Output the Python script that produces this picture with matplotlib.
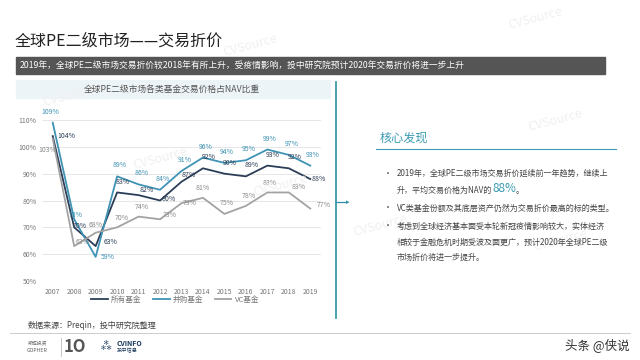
import matplotlib.pyplot as plt
from matplotlib.patches import Rectangle
from matplotlib.lines import Line2D

plt.rcParams['font.family'] = ['Noto Sans CJK SC', 'DejaVu Sans']

# ---- Data ----
years = ['2007', '2008', '2009', '2010', '2011', '2012', '2013',
         '2014', '2015', '2016', '2017', '2018', '2019']
all_funds = [104, 70, 63, 83, 82, 80, 87, 92, 90, 89, 93, 92, 88]
buyout = [109, 73, 59, 89, 86, 84, 91, 96, 94, 95, 99, 97, 93]
vc = [103, 63, 68, 70, 74, 73, 79, 81, 75, 78, 83, 83, 77]
yticks = [50, 60, 70, 80, 90, 100, 110]

# label offsets (points) for each series
off_all = [(10, -3), (4, -2), (11, 0), (4, 5), (6, 1), (6, -2), (5, 2),
           (4, 5), (4, 5), (4, 5), (4, 5), (4, 5), (6, -3)]
off_buy = [(-2, 5), (1, 0), (9, -3), (2, 5), (2, 5), (2, 5), (2, 5),
           (2, 5), (2, 5), (2, 5), (2, 5), (2, 5), (2, 5)]
off_vc = [(-4, -11), (6, 0), (0, 3), (3, 4), (2, 4), (7, 0), (6, -3),
          (0, 4), (2, 5), (2, 4), (2, 4), (7, 1), (10, 0)]

W, H = 640, 360


def fx(x):
    return x / W


def fy(y):
    return 1 - y / H


fig = plt.figure(figsize=(6.4, 3.6), dpi=100)
fig.patch.set_facecolor('white')

# faint watermarks
for wx, wy in [(250, 45), (535, 18), (280, 185), (160, 158), (555, 120), (560, 240),
               (70, 95), (380, 225)]:
    fig.text(fx(wx), fy(wy), 'CVSource', fontsize=9, color='#f0f0f0', rotation=15,
             va='center', ha='center', zorder=0)

# ---- Header ----
fig.text(fx(15), fy(41), '全球PE二级市场——交易折价', fontsize=11.5, color='#222222',
         va='center', ha='left')
fig.patches.append(Rectangle((fx(16), fy(74)), fx(605) - fx(16), fy(57) - fy(74),
                             transform=fig.transFigure, color='#555555', zorder=0))
fig.text(fx(20), fy(65.5),
         '2019年，全球PE二级市场交易折价较2018年有所上升，受疫情影响，投中研究院预计2020年交易折价将进一步上升',
         fontsize=6.3, color='white', va='center', ha='left')

# chart title box
fig.patches.append(Rectangle((fx(16), fy(98)), fx(330) - fx(16), fy(80) - fy(98),
                             transform=fig.transFigure, color='#edf4f7', zorder=0))
fig.text(fx(172), fy(89), '全球PE二级市场各类基金交易价格占NAV比重', fontsize=6.3,
         color='#555555', va='center', ha='center')

# ---- Chart ----
ax = fig.add_axes([fx(42), fy(281), fx(321) - fx(42), fy(120) - fy(281)])
x = range(len(years))
series = [
    (all_funds, '所有基金', '#2c3e57', '#2c3e57', off_all),
    (buyout, '并购基金', '#3f93b5', '#3f93b5', off_buy),
    (vc, 'VC基金', '#a3a3a3', '#8a8a8a', off_vc),
]
for vals, name, col, tcol, offs in series:
    ax.plot(x, vals, color=col, linewidth=1.3, label=name)
    for i, v in enumerate(vals):
        ax.annotate(f'{v}%', (i, v), xytext=offs[i], textcoords='offset points',
                    fontsize=5, color=tcol, ha='center', va='bottom',
                    annotation_clip=False)

ax.set_xlim(-0.5, len(years) - 0.5)
ax.set_ylim(50, 110)
ax.set_yticks(yticks)
ax.set_yticklabels([f'{t}%' for t in yticks])
ax.set_xticks(list(x))
ax.set_xticklabels(years)
ax.tick_params(axis='both', length=0, labelsize=5, labelcolor='#777777')
ax.tick_params(axis='y', pad=4)
ax.tick_params(axis='x', pad=5)
ax.grid(axis='y', color='#e6e6e6', linewidth=0.7)
ax.set_axisbelow(True)
for s in ax.spines.values():
    s.set_visible(False)
ax.patch.set_alpha(0)

handles = [Line2D([0], [0], color=c, linewidth=1.3) for _, _, c, _, _ in series]
labels = [n for _, n, _, _, _ in series]
fig.legend(handles, labels, loc='center', bbox_to_anchor=(fx(175), fy(300)), ncol=3,
           frameon=False, fontsize=5.5, handlelength=2.2, columnspacing=1.5,
           handletextpad=0.4, labelcolor='#777777')

# ---- Divider with arrow ----
fig.add_artist(Line2D([fx(336), fx(336)], [fy(82), fy(318)], transform=fig.transFigure,
                      color='#2a8fa3', linewidth=1.2))
fig.add_artist(Line2D([fx(336), fx(346)], [fy(202), fy(202)], transform=fig.transFigure,
                      color='#2a8fa3', linewidth=0.9))
fig.text(fx(348), fy(202), '▸', fontsize=5, color='#2a8fa3', va='center', ha='center')

# ---- Right panel ----
teal = '#3a9bb2'
fig.text(fx(380), fy(138), '核心发现', fontsize=8.7, color=teal, va='center', ha='left')
fig.add_artist(Line2D([fx(376), fx(616)], [fy(149), fy(149)], transform=fig.transFigure,
                      color=teal, linewidth=0.8))

tsize = 5.8
tcol = '#444444'
bullets = [173, 208, 226]
for by in bullets:
    fig.text(fx(388), fy(by), '•', fontsize=tsize, color=tcol, va='center', ha='center')
fig.text(fx(397), fy(173), '2019年，全球PE二级市场交易折价延续前一年趋势，继续上',
         fontsize=tsize, color=tcol, va='center', ha='left')
t1 = fig.text(fx(397), fy(190), '升，平均交易价格为NAV的', fontsize=tsize, color=tcol,
              va='center', ha='left')
fig.canvas.draw()
bb = t1.get_window_extent()
t2 = fig.text(bb.x1 / W, fy(189), '88%', fontsize=8.5, color=teal, va='center', ha='left')
fig.canvas.draw()
bb2 = t2.get_window_extent()
fig.text(bb2.x1 / W, fy(190), '。', fontsize=tsize, color=tcol, va='center', ha='left')
fig.text(fx(397), fy(208), 'VC类基金份额及其底层资产仍然为交易折价最高的标的类型。',
         fontsize=tsize, color=tcol, va='center', ha='left')
fig.text(fx(397), fy(226), '考虑到全球经济基本面受本轮新冠疫情影响较大，实体经济',
         fontsize=tsize, color=tcol, va='center', ha='left')
fig.text(fx(397), fy(242), '相较于金融危机时期受波及面更广，预计2020年全球PE二级',
         fontsize=tsize, color=tcol, va='center', ha='left')
fig.text(fx(397), fy(257), '市场折价将进一步提升。',
         fontsize=tsize, color=tcol, va='center', ha='left')

# ---- Footer ----
fig.text(fx(28), fy(325), '数据来源：Preqin，投中研究院整理', fontsize=5.8, color='#444444',
         va='center', ha='left')
fig.add_artist(Line2D([fx(10), fx(630)], [fy(333), fy(333)], transform=fig.transFigure,
                      color='#cccccc', linewidth=0.7))
fig.text(fx(28), fy(343), '凯辉投资', fontsize=3.5, color='#666666', va='center', ha='left')
fig.text(fx(27), fy(350), 'GOPHER', fontsize=3.8, color='#666666', va='center', ha='left')
fig.add_artist(Line2D([fx(61), fx(61)], [fy(338), fy(356)], transform=fig.transFigure,
                      color='#bbbbbb', linewidth=0.6))
fig.text(fx(64), fy(347), '1O', fontsize=12, color='#555555', va='center', ha='left',
         fontweight='bold')
fig.text(fx(100), fy(347), '⁂', fontsize=9, color='#1c3a5e', va='center', ha='left')
fig.text(fx(117), fy(343), 'CVINFO', fontsize=5, color='#1c3a5e', va='center', ha='left',
         fontweight='bold')
fig.text(fx(117), fy(351), '投中信息', fontsize=3.8, color='#1c3a5e', va='center', ha='left')

fig.text(fx(630), fy(346), '头条 @侠说', fontsize=9, color='#333333', va='center', ha='right')

fig.savefig('out.png', dpi=100)
